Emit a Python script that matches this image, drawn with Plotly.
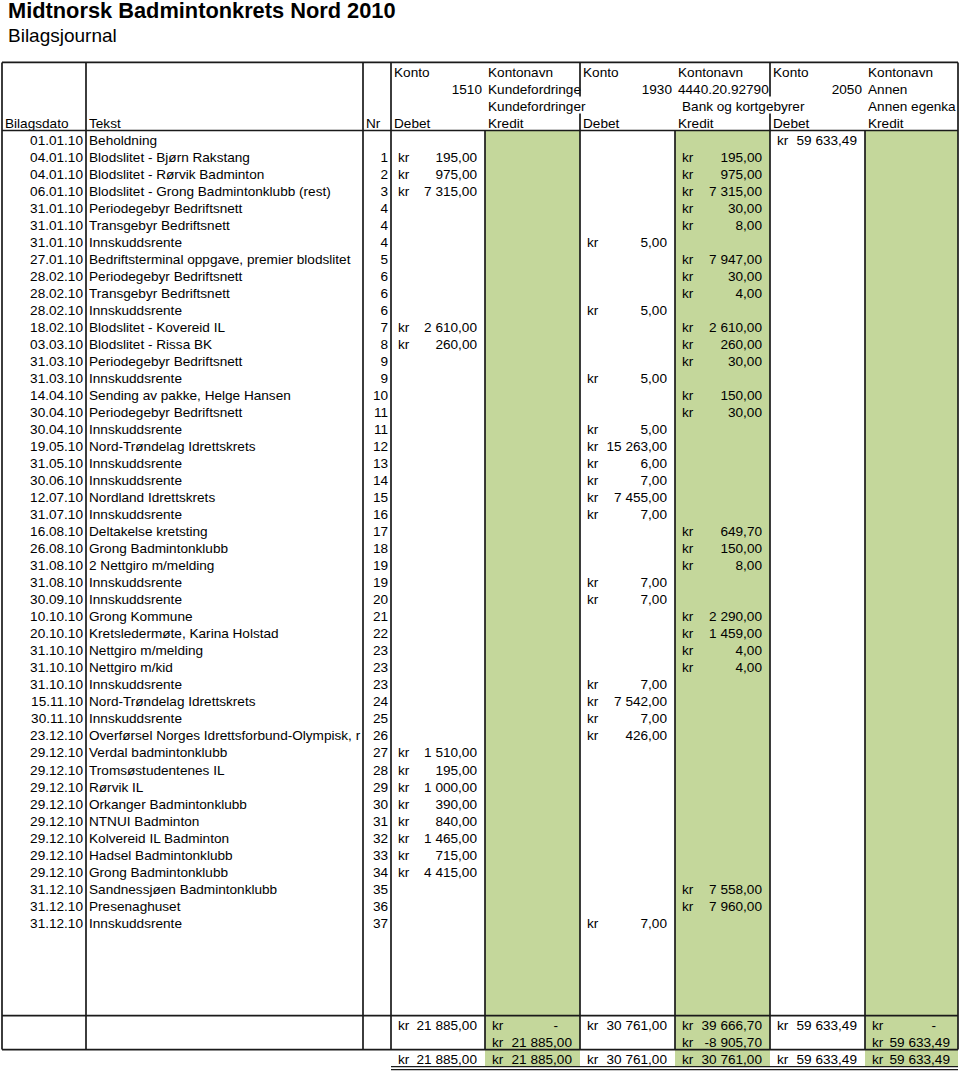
import plotly.graph_objects as go

# ---------------- data ----------------
dates = ["01.01.10", "04.01.10", "04.01.10", "06.01.10", "31.01.10", "31.01.10", "31.01.10",
         "27.01.10", "28.02.10", "28.02.10", "28.02.10", "18.02.10", "03.03.10", "31.03.10",
         "31.03.10", "14.04.10", "30.04.10", "30.04.10", "19.05.10", "31.05.10", "30.06.10",
         "12.07.10", "31.07.10", "16.08.10", "26.08.10", "31.08.10", "31.08.10", "30.09.10",
         "10.10.10", "20.10.10", "31.10.10", "31.10.10", "31.10.10", "15.11.10", "30.11.10",
         "23.12.10", "29.12.10", "29.12.10", "29.12.10", "29.12.10", "29.12.10", "29.12.10",
         "29.12.10", "29.12.10", "31.12.10", "31.12.10", "31.12.10"]
texts = ["Beholdning", "Blodslitet - Bjørn Rakstang", "Blodslitet - Rørvik Badminton",
         "Blodslitet - Grong Badmintonklubb (rest)", "Periodegebyr Bedriftsnett",
         "Transgebyr Bedriftsnett", "Innskuddsrente", "Bedriftsterminal oppgave, premier blodslitet",
         "Periodegebyr Bedriftsnett", "Transgebyr Bedriftsnett", "Innskuddsrente",
         "Blodslitet - Kovereid IL", "Blodslitet - Rissa BK", "Periodegebyr Bedriftsnett",
         "Innskuddsrente", "Sending av pakke, Helge Hansen", "Periodegebyr Bedriftsnett",
         "Innskuddsrente", "Nord-Trøndelag Idrettskrets", "Innskuddsrente", "Innskuddsrente",
         "Nordland Idrettskrets", "Innskuddsrente", "Deltakelse kretsting", "Grong Badmintonklubb",
         "2 Nettgiro m/melding", "Innskuddsrente", "Innskuddsrente", "Grong Kommune",
         "Kretsledermøte, Karina Holstad", "Nettgiro m/melding", "Nettgiro m/kid", "Innskuddsrente",
         "Nord-Trøndelag Idrettskrets", "Innskuddsrente", "Overførsel Norges Idrettsforbund-Olympisk, r",
         "Verdal badmintonklubb", "Tromsøstudentenes IL", "Rørvik IL", "Orkanger Badmintonklubb",
         "NTNUI Badminton", "Kolvereid IL Badminton", "Hadsel Badmintonklubb", "Grong Badmintonklubb",
         "Sandnessjøen Badmintonklubb", "Presenaghuset", "Innskuddsrente"]
bilag_nr = ["", "1", "2", "3", "4", "4", "4", "5", "6", "6", "6", "7", "8", "9", "9", "10", "11",
            "11", "12", "13", "14", "15", "16", "17", "18", "19", "19", "20", "21", "22", "23",
            "23", "23", "24", "25", "26", "27", "28", "29", "30", "31", "32", "33", "34", "35",
            "36", "37"]

# amounts per ledger column, keyed by journal row
debet_1510 = {1: 195, 2: 975, 3: 7315, 11: 2610, 12: 260, 36: 1510, 37: 195, 38: 1000,
              39: 390, 40: 840, 41: 1465, 42: 715, 43: 4415}
kredit_1510 = {}
debet_1930 = {6: 5, 10: 5, 14: 5, 17: 5, 18: 15263, 19: 6, 20: 7, 21: 7455, 22: 7, 26: 7,
              27: 7, 32: 7, 33: 7542, 34: 7, 35: 426, 46: 7}
kredit_1930 = {1: 195, 2: 975, 3: 7315, 4: 30, 5: 8, 7: 7947, 8: 30, 9: 4, 11: 2610, 12: 260,
               13: 30, 15: 150, 16: 30, 23: 649.70, 24: 150, 25: 8, 28: 2290, 29: 1459, 30: 4,
               31: 4, 44: 7558, 45: 7960}
debet_2050 = {0: 59633.49}
kredit_2050 = {}

sum_row = [21885, 0, 30761, 39666.70, 59633.49, 0]
saldo_row = [None, 21885, None, -8905.70, None, 59633.49]
total_row = [21885, 21885, 30761, 30761, 59633.49, 59633.49]

konto_nr = ["1510", "1930", "2050"]
kontonavn = ["Kundefordringe", "4440.20.92790", "Annen"]
kontonavn2 = ["Kundefordringer", "Bank og kortgebyrer", "Annen egenka"]
col_heads = ["Bilagsdato", "Tekst", "Nr", "Debet", "Kredit", "Debet", "Kredit", "Debet", "Kredit"]

# ---------------- layout helpers ----------------
FONT = "Liberation Sans, Arial, sans-serif"
FS = 13.6
GREEN = "#c4d79b"
INK = "#1a1a1a"
edges = [2, 86, 363, 391, 485, 580, 675, 770, 865, 958]
amount_cols = [(edges[i], edges[i + 1]) for i in range(3, 9)]
n = len(dates)
r_sum, r_saldo, r_total = n + 5, n + 6, n + 7
ROW_PX, ROW0_PX = 17.02, 139
DY = 0.14  # text baseline nudge within a row

def nok(v):
    s = f"{abs(v):,.2f}".replace(",", " ").replace(".", ",")
    return ("-" if v < 0 else "") + s


fig = go.Figure()


def add_text(xs, ys, txt, pos, size=FS):
    fig.add_trace(go.Scatter(
        x=xs, y=[y + DY for y in ys], text=txt, mode="text", textposition=pos, cliponaxis=False,
        textfont=dict(family=FONT, size=size, color="black"),
        hoverinfo="skip", showlegend=False))


# green Kredit columns
for i in (1, 3, 5):
    l, r = amount_cols[i]
    fig.add_shape(type="rect", x0=l, x1=r, y0=-0.5, y1=r_total + 0.5,
                  fillcolor=GREEN, line_width=0, layer="below")

# header
for k in range(3):
    dl, dr = amount_cols[2 * k]
    kl, kr_ = amount_cols[2 * k + 1]
    add_text([dl + 3, kl + 3], [-4, -4], ["Konto", "Kontonavn"], "middle right")
    add_text([dr - 3], [-3], [konto_nr[k]], "middle left")
    add_text([kl + 3], [-3], [kontonavn[k]], "middle right")
add_text([488, 682, 868], [-2, -2, -2], kontonavn2, "middle right")
head_x = [5, 89, 366] + [l + 3 for l, _ in amount_cols]
add_text(head_x, [-1] * len(col_heads), col_heads, "middle right")

# journal rows
rows = list(range(n))
add_text([edges[1] - 3] * n, rows, dates, "middle left")
add_text([edges[1] + 3] * n, rows, texts, "middle right")
add_text([edges[3] - 3] * n, rows, bilag_nr, "middle left")

ledger = [debet_1510, kredit_1510, debet_1930, kredit_1930, debet_2050, kredit_2050]
for (l, r), col in zip(amount_cols, ledger):
    if not col:
        continue
    rr = list(col.keys())
    add_text([l + 7] * len(rr), rr, ["kr"] * len(rr), "middle right")
    add_text([r - 8] * len(rr), rr, [nok(v) for v in col.values()], "middle left")

# footer totals
for row, vals in ((r_sum, sum_row), (r_saldo, saldo_row), (r_total, total_row)):
    for (l, r), v in zip(amount_cols, vals):
        if v is None:
            continue
        add_text([l + 7], [row], ["kr"], "middle right")
        if v == 0:
            add_text([r - 22], [row], ["-"], "middle left")
        else:
            add_text([r - 8], [row], [nok(v)], "middle left")


# grid lines
def hline(y, x0=edges[0], x1=edges[-1], w=1.7):
    fig.add_shape(type="line", x0=x0, x1=x1, y0=y, y1=y, line=dict(color=INK, width=w))


def vline(x, y0, y1, w=1.7):
    fig.add_shape(type="line", x0=x, x1=x, y0=y0, y1=y1, line=dict(color=INK, width=w))


top, hdr_bot, foot_top, foot_bot = -4.5, -0.5, r_sum - 0.5, r_saldo + 0.5
for y in (top, hdr_bot, foot_top, foot_bot):
    hline(y)
for x in (edges[0], edges[1], edges[2], edges[3], edges[-1]):
    vline(x, top, foot_bot)
for x in (edges[4], edges[6], edges[8]):
    vline(x, hdr_bot, foot_bot)
for x in (edges[5], edges[7]):
    vline(x, top, -2.5)
    vline(x, -1.5, foot_bot)
hline(r_total + 0.5, x0=edges[3], w=1.2)
hline(r_total + 0.68, x0=edges[3], w=1.2)

# titles
fig.add_annotation(x=6, y=(10 - ROW0_PX) / ROW_PX, text="<b>Midtnorsk Badmintonkrets Nord 2010</b>",
                   showarrow=False, xanchor="left", yanchor="middle",
                   font=dict(family=FONT, size=21.8, color="black"))
fig.add_annotation(x=6, y=(35 - ROW0_PX) / ROW_PX, text="Bilagsjournal",
                   showarrow=False, xanchor="left", yanchor="middle",
                   font=dict(family=FONT, size=19, color="black"))

fig.update_layout(
    width=960, height=1071,
    margin=dict(l=0, r=0, t=0, b=0),
    paper_bgcolor="white", plot_bgcolor="white",
    xaxis=dict(range=[0, 960], visible=False, fixedrange=True),
    yaxis=dict(range=[(1071 - ROW0_PX) / ROW_PX, -ROW0_PX / ROW_PX], visible=False, fixedrange=True),
)

# the page's default 8px body margin would shift the sheet; remove it
fig.write_html("out.html", config={"displayModeBar": False},
               post_script="document.body.style.margin='0';")
